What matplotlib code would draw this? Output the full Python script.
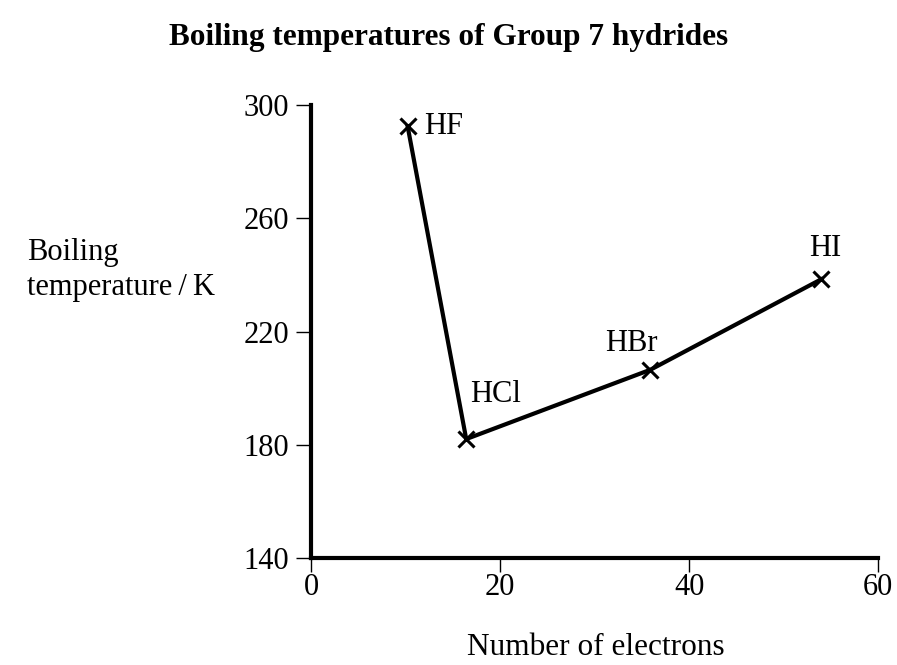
import matplotlib.pyplot as plt

plt.rcParams["font.family"] = ["Liberation Serif", "DejaVu Serif"]

compounds = ["HF", "HCl", "HBr", "HI"]
electrons = [10.2, 16.4, 35.9, 54.0]
boiling_k = [292.5, 182.0, 206.5, 238.5]
# (dx, dy) in points, horizontal alignment
label_pos = {"HF": (12, 0, "left"), "HCl": (3, 32, "left"),
             "HBr": (-14, 19, "center"), "HI": (3, 22, "center")}

fig = plt.figure(figsize=(8.97, 6.65), dpi=100)
ax = fig.add_axes([0.347, 0.161, 0.632, 0.681])

ax.plot(electrons, boiling_k, color="black", lw=3, marker="x",
        markersize=12, markeredgewidth=2.2, solid_joinstyle="miter")

for name, x, y in zip(compounds, electrons, boiling_k):
    dx, dy, ha = label_pos[name]
    ax.annotate(name, (x, y), xytext=(dx, dy), textcoords="offset points",
                ha=ha, va="center", fontsize=22)

ax.set_xlim(0, 60)
ax.set_ylim(140, 300)
ax.set_xticks([0, 20, 40, 60])
ax.set_yticks([140, 180, 220, 260, 300])
ax.spines[["top", "right"]].set_visible(False)
ax.spines[["left", "bottom"]].set_linewidth(3)
ax.tick_params(direction="out", width=1, labelsize=22)
ax.tick_params(axis="y", length=11, pad=5)
ax.tick_params(axis="x", length=10, pad=1)

fig.text(0.5, 0.943, "Boiling temperatures of Group 7 hydrides",
         ha="center", va="center", fontsize=22.5, fontweight="bold")
fig.text(0.03, 0.594, "Boiling\ntemperature\u2009/\u2009K", ha="left", va="center",
         fontsize=22, linespacing=1.25)
fig.text(0.664, 0.027, "Number of electrons", ha="center", va="center", fontsize=22.5)

fig.savefig("out.png", dpi=100)
